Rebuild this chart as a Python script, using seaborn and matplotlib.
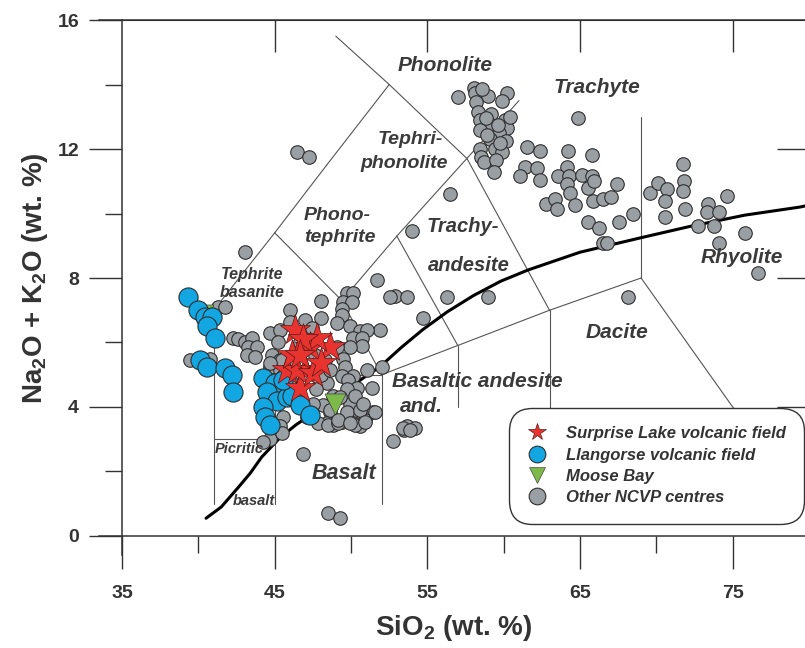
import matplotlib
matplotlib.use("Agg")
import matplotlib.pyplot as plt
import matplotlib.ticker as ticker
from matplotlib.lines import Line2D
import pandas as pd
import seaborn as sns

#-------------------------------------------------------------------------------------
# Data (SiO2 wt.%, Na2O + K2O wt.%)
#-------------------------------------------------------------------------------------
other_ncvp = [
    # trachyte / phonolite cluster
    (57.0, 13.6), (58.05, 13.9), (58.1, 13.75), (59.0, 13.65), (60.2, 13.75), (59.9, 13.5),
    (58.2, 13.45), (58.3, 13.15), (59.2, 13.1), (60.1, 12.9), (58.45, 12.9), (59.2, 12.75),
    (60.2, 12.65), (58.45, 12.6), (59.7, 12.5), (59.1, 12.3), (60.15, 12.25), (58.45, 12.0),
    (59.4, 12.0), (59.9, 11.9), (58.5, 11.75), (58.7, 11.6), (59.5, 11.65), (59.35, 11.3),
    (58.9, 12.45), (59.75, 12.2), (60.4, 13.0), (58.6, 13.85), (58.85, 12.95), (59.6, 12.75),
    # trachyte field
    (56.5, 10.6), (61.5, 12.05), (62.4, 11.95), (61.4, 11.45), (62.2, 11.4), (61.05, 11.15),
    (62.4, 11.05), (64.2, 11.95), (65.8, 11.8), (64.15, 11.45), (63.55, 11.15), (64.3, 11.15),
    (65.1, 11.2), (65.8, 11.15), (64.15, 10.9), (65.5, 10.8), (64.35, 10.65), (65.9, 11.0),
    (62.8, 10.3), (63.35, 10.45), (63.5, 10.15), (64.65, 10.25), (65.85, 10.4), (66.5, 10.45),
    (67.0, 10.5), (67.4, 10.9), (64.85, 12.95), (65.5, 9.75), (66.25, 9.55), (67.55, 9.75),
    (68.5, 10.0), (66.5, 9.1), (66.75, 9.1), (69.6, 10.65), (70.1, 10.95), (70.7, 10.75),
    (70.55, 10.4), (71.75, 11.55), (71.8, 11.0), (71.75, 10.7), (71.85, 10.15), (70.55, 9.9),
    (73.4, 10.3), (73.3, 10.05), (74.1, 10.05), (74.6, 10.55), (72.7, 9.6), (73.75, 9.6),
    (74.1, 9.1), (75.8, 9.4), (76.65, 8.15), (56.3, 7.4), (59.0, 7.4), (68.15, 7.4),
    # scattered
    (46.45, 11.9), (47.25, 11.75), (43.05, 8.8), (54.0, 9.45), (52.9, 7.45), (53.65, 7.4),
    (52.55, 7.4), (54.7, 6.75), (51.7, 7.95), (53.65, 3.4), (54.2, 3.35), (52.75, 2.95),
    (53.5, 3.3), (48.5, 0.7), (49.3, 0.55), (46.85, 2.55), (51.9, 6.4), (52.0, 5.25),
    # basanite / basalt cluster
    (41.3, 7.1), (41.75, 7.1), (42.25, 6.15), (42.6, 6.1), (43.05, 6.0), (43.5, 6.15),
    (43.25, 5.85), (43.85, 5.85), (43.2, 5.6), (43.7, 5.55), (39.45, 5.45), (40.75, 5.5),
    (44.7, 6.3), (45.35, 6.4), (45.2, 6.0), (44.8, 5.6), (45.35, 5.45), (44.7, 5.25),
    (45.35, 5.15), (46.0, 5.5), (45.55, 4.95), (46.0, 4.85), (45.15, 4.6), (48.15, 4.05),
    (48.8, 4.35), (48.4, 4.75), (48.6, 3.85), (47.5, 4.1), (47.1, 3.7), (45.55, 3.7),
    (45.0, 3.3), (45.35, 3.4), (44.7, 3.0), (44.25, 2.9), (49.75, 7.55), (50.1, 7.55),
    (48.0, 7.3), (49.5, 7.25), (50.05, 7.25), (49.4, 7.05), (48.0, 6.75), (49.4, 6.85),
    (49.1, 6.6), (49.95, 6.5), (50.6, 6.35), (51.05, 6.4), (50.15, 6.15), (50.7, 6.15),
    (50.7, 5.9), (49.95, 5.85), (49.1, 5.85), (49.5, 5.5), (49.6, 5.25), (50.15, 4.95),
    (51.05, 5.15), (51.4, 4.6), (50.15, 4.55), (49.95, 4.1), (51.45, 3.85), (50.4, 3.75),
    (50.6, 3.4), (50.15, 3.5), (49.4, 3.55), (48.4, 3.5), (48.8, 3.45), (47.85, 3.5),
    (48.5, 3.45), (49.15, 3.5), (50.25, 3.45), (50.9, 3.6), (53.4, 3.35), (53.85, 3.3),
    (49.4, 4.95), (49.8, 4.85), (50.4, 4.6), (49.75, 4.55), (50.25, 4.35), (49.3, 4.3),
    (48.6, 3.9), (49.75, 3.85), (50.6, 3.9), (49.15, 3.6), (49.95, 3.5), (50.9, 3.55),
    (51.55, 3.85), (50.8, 4.1), (45.5, 3.2), (46.0, 7.0), (47.0, 6.7), (47.45, 6.45),
    (46.0, 6.65), (46.65, 6.0), (47.65, 5.6), (48.3, 5.45), (48.0, 5.0), (46.65, 4.3),
    (46.0, 4.35), (47.7, 4.55), (48.6, 5.15), (45.5, 5.45), (45.8, 5.0), (44.7, 5.35),
]

llangorse = [
    (39.3, 7.4), (40.0, 7.0), (40.45, 6.8), (40.9, 6.8), (40.55, 6.5), (41.1, 6.15),
    (40.1, 5.45), (40.55, 5.25), (41.75, 5.2), (42.2, 5.0), (42.25, 4.45), (44.25, 4.9),
    (45.0, 4.75), (44.5, 4.45), (45.15, 4.2), (45.8, 4.3), (46.1, 4.35), (44.25, 4.0),
    (44.35, 3.7), (44.7, 3.45), (45.55, 4.85), (46.65, 4.05), (47.3, 3.75),
]

surprise_lake = [
    (46.3, 6.4), (47.3, 5.85), (48.6, 5.85), (47.75, 6.15), (46.85, 6.1), (45.8, 5.15),
    (47.0, 5.15), (46.65, 4.6), (46.45, 5.15), (47.5, 5.05), (46.15, 5.6), (46.65, 5.6),
    (48.0, 5.35),
]

moose_bay = [(40.3, 6.85), (48.95, 4.1)]

# Alkaline / subalkaline divide
alk_line_sio2 = [40.5, 41.5, 42.6, 43.4, 44.15, 45.35, 46.4, 47.5, 48.6, 49.75, 50.8,
                 51.9, 53.3, 54.7, 56.3, 58.0, 59.8, 61.6, 65.0, 69.0, 72.2, 75.8, 79.4, 79.9]
alk_line_alk = [0.55, 0.9, 1.5, 1.95, 2.45, 3.05, 3.45, 3.8, 4.18, 4.55, 4.9,
                5.25, 5.85, 6.4, 6.95, 7.45, 7.9, 8.25, 8.8, 9.25, 9.6, 9.95, 10.2, 10.25]

# TAS field boundaries
boundaries = [
    ((41, 1), (41, 7)), ((41, 3), (45, 3)), ((45, 1), (45, 5)), ((45, 5), (52, 5)),
    ((52, 1), (52, 5)), ((52, 5), (63, 7)), ((63, 7), (69, 8)), ((57, 4), (57, 5.9)),
    ((63, 1), (63, 7)), ((41, 7), (45, 9.4)), ((45, 9.4), (48.4, 11.5)),
    ((48.4, 11.5), (52.5, 14)), ((52.5, 14), (49, 15.5)), ((52.5, 14), (57.6, 11.7)),
    ((53, 9.3), (61, 13.5)), ((49.4, 7.3), (53, 9.3)), ((45, 9.4), (49.4, 7.3)),
    ((49.4, 7.3), (52, 5)), ((53, 9.3), (57, 5.9)), ((57.6, 11.7), (63, 7)),
    ((69, 8), (69, 13)), ((69, 8), (76.5, 3.0)),
]

# Field names: (text, SiO2, alkali, size)
field_labels = [
    ("Phonolite", 56.15, 14.6, 15), ("Trachyte", 66.1, 13.9, 15),
    ("Tephri-", 53.9, 12.3, 14), ("phonolite", 53.5, 11.55, 14),
    ("Phono-", 49.1, 9.95, 14), ("tephrite", 49.25, 9.25, 14),
    ("Trachy-", 57.3, 9.6, 14.5), ("andesite", 57.7, 8.4, 14.5),
    ("Tephrite", 43.55, 8.1, 11.5), ("basanite", 43.55, 7.55, 11.5),
    ("Rhyolite", 75.6, 8.65, 15), ("Dacite", 67.4, 6.3, 15),
    ("Basaltic andesite", 58.25, 4.8, 15), ("and.", 54.6, 4.0, 15),
    ("Basalt", 49.55, 1.95, 15.5), ("Picritic", 42.7, 2.7, 10.5), ("basalt", 43.65, 1.1, 10.5),
]

group_names = ["Surprise Lake volcanic field", "Llangorse volcanic field",
               "Moose Bay", "Other NCVP centres"]

#-------------------------------------------------------------------------------------
# Styling
#-------------------------------------------------------------------------------------
sns.set_style("white")
plt.rcParams['font.family'] = ['Liberation Sans', 'DejaVu Sans']
plt.rcParams['mathtext.default'] = 'regular'

text_col = '#333333'
line_col = '#555555'

fig = plt.figure(figsize = (8.05, 6.48), dpi = 100)
ax = fig.add_axes([0.123, 0.1435, 0.882, 0.8256])

# Field boundaries
for (x0, y0), (x1, y1) in boundaries:
    ax.plot([x0, x1], [y0, y1], color = line_col, lw = 0.8, zorder = 1)

# Alkaline line
sns.lineplot(x = alk_line_sio2, y = alk_line_alk, color = 'black', lw = 2.2,
             sort = False, estimator = None, ax = ax, zorder = 2)

# Points
df_other = pd.DataFrame(other_ncvp, columns = ['sio2', 'alk'])
df_llan = pd.DataFrame(llangorse, columns = ['sio2', 'alk'])
df_surp = pd.DataFrame(surprise_lake, columns = ['sio2', 'alk'])
df_moose = pd.DataFrame(moose_bay, columns = ['sio2', 'alk'])

sns.scatterplot(data = df_other, x = 'sio2', y = 'alk', s = 95, color = '#9a9fa4',
                edgecolor = '#2e2e2e', linewidth = 0.8, ax = ax, zorder = 3)
sns.scatterplot(data = df_moose, x = 'sio2', y = 'alk', marker = 'v', s = 230, color = '#7cb84a',
                edgecolor = '#2e2e2e', linewidth = 0.4, ax = ax, zorder = 4)
sns.scatterplot(data = df_llan, x = 'sio2', y = 'alk', s = 190, color = '#12a7e3',
                edgecolor = '#2e2e2e', linewidth = 0.8, ax = ax, zorder = 5)
sns.scatterplot(data = df_surp, x = 'sio2', y = 'alk', marker = '*', s = 520, color = '#e8332e',
                edgecolor = '#5a1a1a', linewidth = 0.5, ax = ax, zorder = 6)

# Field names
for name, xx, yy, fs in field_labels:
    ax.text(xx, yy, name, fontsize = fs, fontweight = 'bold', fontstyle = 'italic',
            color = '#3a3a3a', ha = 'center', va = 'center', zorder = 7)

# Axes limits and spines
ax.set_xlim(33.49, 80.0)
ax.set_ylim(-0.59, 16)
ax.spines['left'].set_position(('data', 35))
ax.spines['bottom'].set_position(('data', 0))
for side in ['left', 'bottom', 'top', 'right']:
    ax.spines[side].set_color('#333333')
    ax.spines[side].set_linewidth(1.1)

ax.xaxis.set_major_locator(ticker.FixedLocator([35, 45, 55, 65, 75]))
ax.xaxis.set_minor_locator(ticker.FixedLocator([40, 50, 60, 70]))
ax.yaxis.set_major_locator(ticker.FixedLocator([0, 4, 8, 12, 16]))
ax.yaxis.set_minor_locator(ticker.FixedLocator([2, 6, 10, 14]))
ax.tick_params(which = 'major', direction = 'out', length = 24, width = 1.0, color = '#333333',
               labelsize = 14, labelcolor = text_col, left = True, bottom = True)
ax.tick_params(which = 'minor', direction = 'out', length = 12, width = 1.0, color = '#333333',
               left = True, bottom = True)
ax.tick_params(axis = 'x', which = 'major', pad = 11)
ax.tick_params(axis = 'y', which = 'major', pad = 7)
for lab in ax.get_xticklabels() + ax.get_yticklabels():
    lab.set_fontweight('bold')

# Inward ticks on top and right
sec_top = ax.secondary_xaxis('top')
sec_top.set_xticks([45, 55, 65, 75])
sec_top.tick_params(direction = 'in', length = 23, width = 1.0, color = '#333333', labeltop = False)
sec_right = ax.secondary_yaxis('right')
sec_right.set_yticks([4, 8, 12])
sec_right.tick_params(direction = 'in', length = 23, width = 1.0, color = '#333333', labelright = False)

# Axis titles
ax.set_xlabel('SiO$_2$ (wt. %)', fontsize = 20, fontweight = 'bold', color = text_col, labelpad = 8)
fig.text(0.044, 0.57, 'Na$_2$O + K$_2$O (wt. %)', rotation = 90, fontsize = 20,
         fontweight = 'bold', color = text_col, ha = 'center', va = 'center')
ax.set_ylabel('')

# Legend
handles = [
    Line2D([], [], ls = '', marker = '*', ms = 13, mfc = '#e8332e', mec = '#5a1a1a', mew = 0.5),
    Line2D([], [], ls = '', marker = 'o', ms = 12, mfc = '#12a7e3', mec = '#2e2e2e', mew = 0.8),
    Line2D([], [], ls = '', marker = 'v', ms = 12, mfc = '#7cb84a', mec = '#2e2e2e', mew = 0.4),
    Line2D([], [], ls = '', marker = 'o', ms = 12, mfc = '#9a9fa4', mec = '#2e2e2e', mew = 0.8),
]
leg = ax.legend(handles, group_names, loc = 'lower left', bbox_to_anchor = (0.582, 0.065),
                frameon = True, fancybox = True, edgecolor = '#333333', framealpha = 1,
                prop = {'family': ['Liberation Sans', 'DejaVu Sans'], 'weight': 'bold',
                        'style': 'italic', 'size': 12},
                labelspacing = 0.38, handletextpad = 1.1, borderpad = 0.9, borderaxespad = 0,
                handlelength = 1.2)
leg.get_frame().set_boxstyle('round,pad=0.2,rounding_size=1.4')
leg.get_frame().set_linewidth(1.0)
for t in leg.get_texts():
    t.set_color(text_col)
leg.set_zorder(10)

plt.savefig("out.png", dpi = 100)
